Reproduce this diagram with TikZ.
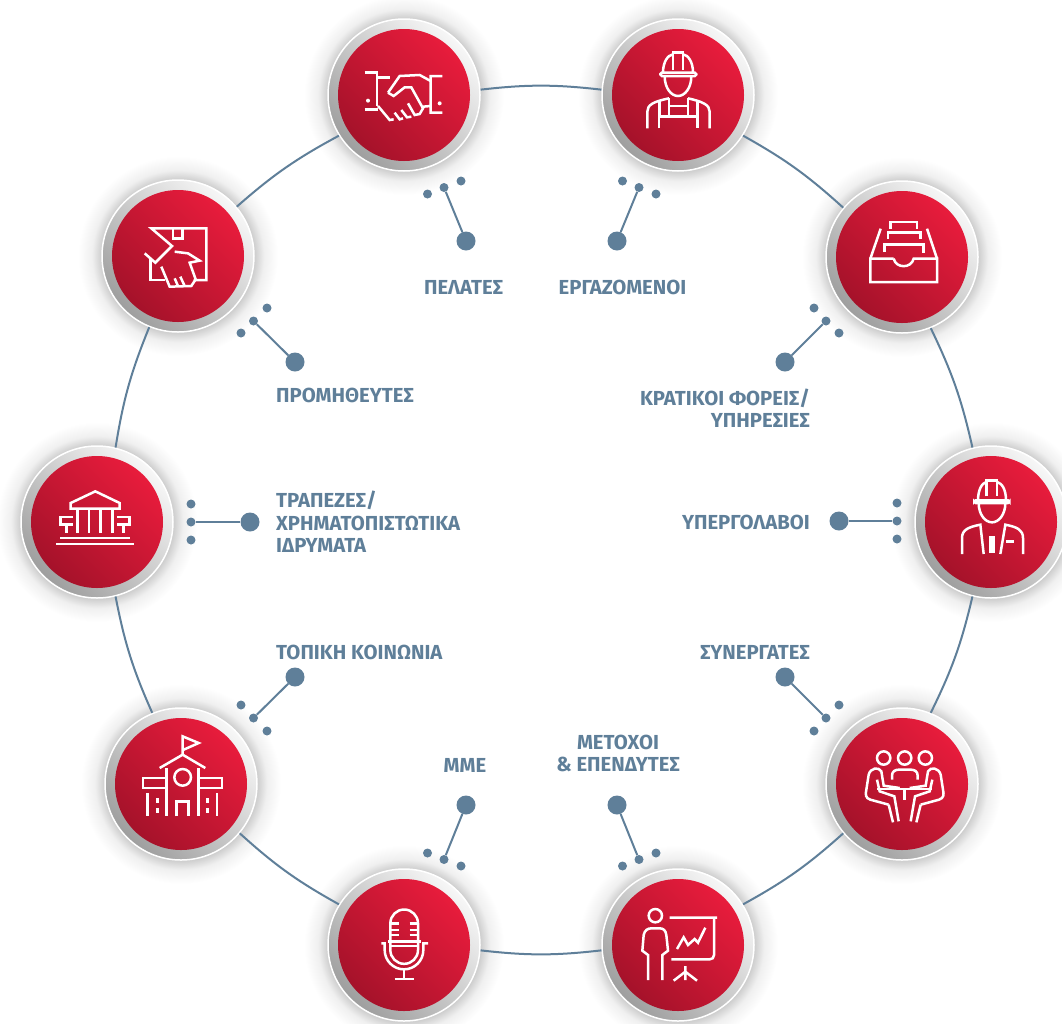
\documentclass[tikz,border=0pt]{standalone}
\usepackage{fontspec}
\setmainfont{Fira Sans}
\usetikzlibrary{positioning}
\definecolor{slate}{HTML}{5F7F99}
\definecolor{reddark}{HTML}{A5122A}
\definecolor{redlight}{HTML}{E81C3C}
\pgfdeclareradialshading{halo}{\pgfpoint{0bp}{0bp}}{color(0bp)=(black!20); color(19bp)=(black!20); color(21.5bp)=(black!6); color(25bp)=(white); color(50bp)=(white)}
\tikzset{
	bezel/.style={circle, minimum size=152pt, inner sep=0pt, draw=white, line width=1.5pt, bottom color=black!38, top color=black!3, shading angle=-45},
	redface/.style={circle, minimum size=132pt, inner sep=0pt, bottom color=reddark, top color=redlight, shading angle=-45},
	ringline/.style={draw=slate, line width=2pt},
	stem/.style={draw=slate, line width=2pt},
	hub/.style={circle, fill=slate, minimum size=19pt, inner sep=0pt},
	pip/.style={circle, fill=slate, minimum size=9pt, inner sep=0pt},
	stake/.style={text=slate, inner sep=0pt, font=\fontsize{20.3}{22.5}\selectfont\bfseries},
	icon/.style n args={3}{shift={(#1)}, x=.3333pt, y=-.3333pt, shift={(-#2,-#3)}, draw=white, line width=2.5pt},
}
\begin{document}
\begin{tikzpicture}[x=1pt, y=-1pt]
	\useasboundingbox (0,0) rectangle (1062,1023);

	% discs
	\foreach \name/\px/\py in {hands/404/95, worker/678/95, inbox/902/257, sub/991/522, meeting/902/784, presenter/678/945, mic/404/945, school/181/784, bank/97/522, supplier/178/256} {
		\shade[shading=halo] (\px,\py) circle (100pt);
		\node (\name) [bezel] at (\px,\py) {};
		\node (\name face) [redface] at (\name) {};
	}

	% ring
	\foreach \nodea/\nodeb/\ang in {hands/worker/108, worker/inbox/72, inbox/sub/36, sub/meeting/0, meeting/presenter/-36, presenter/mic/-72, mic/school/-108, school/bank/-144, bank/supplier/180, supplier/hands/144} {
		\pgfmathsetmacro\sa{\ang-104}
		\pgfmathsetmacro\ea{\ang-36+104}
		\draw[ringline] (\nodea.\sa) to[bend left=6.5] (\nodeb.\ea);
	}

	% pips and stems
	\foreach \name/\hx/\hy/\mx/\my/\ax/\ay/\bx/\by in {
		hands/466/241/444/187.5/427.5/194/461/181,
		worker/617/241/639/187.5/622.5/181/656/194,
		supplier/295/362/253.5/321/267/308/241/333,
		inbox/785/362/826/321/814/308/839/333,
		bank/250/522/191/522/191/504/191/540,
		sub/839/521/897/521/897/503/897/539,
		school/295/677/253.5/718/241/705/267/731,
		meeting/785/677/826/718/839/705/814/731,
		mic/466/805/444/859.5/427.5/853/461/866,
		presenter/617/805/639/859.5/622.5/866/656/853} {
		\node (\name hub) [hub] at (\hx,\hy) {};
		\node (\name mid) [pip] at (\mx,\my) {};
		\node (\name a) [pip] at (\ax,\ay) {};
		\node (\name b) [pip] at (\bx,\by) {};
		\draw[stem] (\name hub) -- (\name mid);
	}

	% labels
	\node (lhands) [stake] at (463.5,287) {ΠΕΛΑΤΕΣ};
	\node (lworker) [stake] at (622.5,287) {ΕΡΓΑΖΟΜΕΝΟΙ};
	\node (lsupplier) [stake, anchor=west] at (276,395) {ΠΡΟΜΗΘΕΥΤΕΣ};
	\node (linbox) [stake, align=right, anchor=east] at (810,408) {ΚΡΑΤΙΚΟΙ ΦΟΡΕΙΣ/\\ΥΠΗΡΕΣΙΕΣ};
	\node (lbank) [stake, align=left, anchor=west] at (276,522) {ΤΡΑΠΕΖΕΣ/\\ΧΡΗΜΑΤΟΠΙΣΤΩΤΙΚΑ\\ΙΔΡΥΜΑΤΑ};
	\node (lsub) [stake, anchor=east] at (810,522) {ΥΠΕΡΓΟΛΑΒΟΙ};
	\node (lschool) [stake, anchor=west] at (276,652) {ΤΟΠΙΚΗ ΚΟΙΝΩΝΙΑ};
	\node (lmeeting) [stake, anchor=east] at (810,652) {ΣΥΝΕΡΓΑΤΕΣ};
	\node (lmic) [stake] at (465,765) {ΜΜΕ};
	\node (lpresenter) [stake, align=center] at (618,753.5) {ΜΕΤΟΧΟΙ\\\& ΕΠΕΝΔΥΤΕΣ};

	% handshake
	\begin{scope}[icon={hands}{253}{285}]
		\draw (135,218) -- (172,218) -- (172,318) (135,328) -- (175,328) (172,232) -- (212,232);
		\draw (368,228) -- (333,228) -- (333,338) -- (368,338) (310,320) -- (333,318);
		\draw (205,278) -- (240,228) -- (300,225) -- (333,243);
		\draw (205,278) -- (222,288) -- (255,262) -- (275,262) -- (310,325) -- (300,342) -- (285,345) -- (265,310);
		\draw (175,318) -- (210,360) -- (222,358) (225,338) -- (240,358) -- (250,355) (245,330) -- (262,352) -- (275,350);
		\fill[white] (145,302) circle (6) (360,310) circle (6);
	\end{scope}

	% hard hat with overalls
	\begin{scope}[icon={worker}{1075}{285}]
		\draw (1030,218) .. controls (1030,185) and (1045,165) .. (1060,163) (1120,218) .. controls (1120,185) and (1105,165) .. (1090,163);
		\draw (1060,210) -- (1060,158) -- (1090,158) -- (1090,210);
		\draw[rounded corners=1.5pt] (1022,218) rectangle (1130,228);
		\draw (1035,228) .. controls (1035,265) and (1055,288) .. (1075,288) .. controls (1095,288) and (1115,265) .. (1115,228);
		\draw (983,385) -- (983,335) .. controls (983,315) and (1000,305) .. (1048,295);
		\draw (1170,385) -- (1170,335) .. controls (1170,315) and (1150,305) .. (1105,295);
		\draw (1048,295) -- (1048,350) -- (1105,350) -- (1105,295) (1048,318) -- (1105,318);
		\draw (1020,300) -- (1020,350) (1018,385) -- (1018,350) -- (1048,350) (1133,300) -- (1133,385) (1133,350) -- (1105,350);
	\end{scope}

	% parcel in hand
	\begin{scope}[icon={supplier}{265}{258}]
		\draw (312,330) -- (350,330) -- (350,175) -- (185,175) -- (247,228) -- (197,278) -- (165,250);
		\draw (183,265) -- (183,330) -- (225,330);
		\draw (250,175) -- (250,205) -- (278,205) -- (278,175);
		\draw (255,245) -- (295,250) -- (330,272) -- (300,278) -- (318,328) -- (305,348) -- (240,350) -- (215,290);
		\draw (255,325) -- (265,348) (272,320) -- (285,348);
	\end{scope}

	% filing tray
	\begin{scope}[icon={inbox}{277}{260}]
		\draw (252,265) -- (182,265) -- (182,335) -- (382,335) -- (382,265) -- (312,265) .. controls (305,295) and (259,295) .. (252,265);
		\draw (182,265) -- (213,175) (382,265) -- (352,175);
		\draw (243,175) -- (243,155) -- (322,155) -- (322,175);
		\draw (235,205) -- (235,187) -- (332,187) -- (332,207);
		\draw (224,245) -- (224,222) -- (342,222) -- (342,248);
	\end{scope}

	% bank
	\begin{scope}[icon={bank}{262}{247}]
		\draw (183,207) -- (183,190) -- (257,155) -- (330,190) -- (330,207) -- cycle;
		\foreach \colx in {203,238,272,308} {
			\draw (\colx,207) -- (\colx,280);
		}
		\draw (190,232) -- (152,232) -- (152,255) -- (190,255) (170,255) -- (170,280);
		\draw (322,232) -- (360,232) -- (360,255) -- (322,255) (342,255) -- (342,280);
		\draw (152,295) -- (360,295) (140,313) -- (372,313);
	\end{scope}

	% engineer
	\begin{scope}[icon={sub}{272}{247}]
		\draw (233,182) .. controls (233,150) and (245,130) .. (258,127) (317,182) .. controls (317,150) and (305,130) .. (290,127);
		\draw (258,170) -- (258,122) -- (290,122) -- (290,170);
		\draw[rounded corners=1.5pt] (222,182) rectangle (327,190);
		\draw (235,190) .. controls (235,225) and (255,248) .. (275,248) .. controls (295,248) and (315,225) .. (315,190);
		\draw (185,343) -- (185,295) .. controls (185,270) and (205,262) .. (240,255) -- (250,343);
		\draw (368,343) -- (368,295) .. controls (368,270) and (350,262) .. (315,255) -- (300,343);
		\draw (270,290) -- (270,340) (280,290) -- (280,340) (318,305) -- (340,305);
	\end{scope}

	% school
	\begin{scope}[icon={school}{272}{253}]
		\draw (277,165) -- (277,110) -- (325,130) -- (280,150);
		\draw (208,205) -- (277,165) -- (345,205);
		\draw (277,233) circle (25);
		\draw (228,205) -- (228,350) (325,205) -- (325,350);
		\draw (228,235) -- (158,235) -- (158,265) -- (228,265);
		\draw (325,235) -- (395,235) -- (395,265) -- (325,265);
		\draw (258,350) -- (258,305) -- (295,305) -- (295,350);
		\draw (172,280) -- (172,350) (380,280) -- (380,350);
		\draw (202,295) -- (202,310) (202,325) -- (202,340) (352,295) -- (352,310) (352,325) -- (352,340);
	\end{scope}

	% meeting
	\begin{scope}[icon={meeting}{245}{253}]
		\draw (190,175) circle (20) (253,175) circle (20) (315,175) circle (20);
		\draw (215,240) -- (215,228) .. controls (215,215) and (225,210) .. (235,210) -- (272,210) .. controls (282,210) and (292,215) .. (292,228) -- (292,240);
		\draw (205,315) -- (150,300) .. controls (135,295) and (135,285) .. (138,270) -- (145,225) .. controls (150,205) and (175,200) .. (183,215) -- (190,258) -- (238,265);
		\draw (301,315) -- (356,300) .. controls (371,295) and (371,285) .. (368,270) -- (361,225) .. controls (356,205) and (331,200) .. (323,215) -- (316,258) -- (268,265);
		\draw (205,315) -- (218,368) (301,315) -- (288,368);
		\draw (170,240) -- (178,275) -- (222,290) -- (235,365) (336,240) -- (328,275) -- (284,290) -- (271,365);
		\draw (170,268) -- (336,268);
		\draw (252,268) -- (252,300);
	\end{scope}

	% microphone
	\begin{scope}[icon={mic}{253}{255}]
		\draw (212,245) -- (212,190) arc[start angle=180, end angle=360, radius=41.5] -- (295,245);
		\draw (212,190) -- (238,190) (212,210) -- (238,210) (212,225) -- (238,225);
		\draw (270,190) -- (295,190) (270,210) -- (295,210) (270,225) -- (295,225);
		\draw (205,245) -- (303,245) (212,258) -- (295,258);
		\draw (212,245) -- (212,270) arc[start angle=180, end angle=0, radius=41.5] -- (295,245);
		\draw (185,250) -- (195,250) -- (195,270) arc[start angle=180, end angle=0, radius=58] -- (311,250) -- (325,250);
		\draw (253,328) -- (253,357) (225,357) -- (282,357);
	\end{scope}

	% presenter
	\begin{scope}[icon={presenter}{1075}{255}]
		\draw (1007,167) circle (20);
		\draw (985,360) -- (985,285) -- (968,272) -- (972,225) .. controls (975,210) and (985,205) .. (995,205) -- (1020,205) .. controls (1030,205) and (1038,210) .. (1040,225) -- (1045,272) -- (1028,285) -- (1028,360);
		\draw (1050,173) -- (1192,173) (1183,173) -- (1183,285) .. controls (1183,293) and (1178,298) .. (1170,298) -- (1055,298);
		\draw (1072,267) -- (1092,232) -- (1105,255) -- (1125,237) -- (1135,248) -- (1157,203);
		\draw (1097,318) -- (1097,360) (1062,362) -- (1097,335) -- (1132,362);
	\end{scope}
\end{tikzpicture}
\end{document}
